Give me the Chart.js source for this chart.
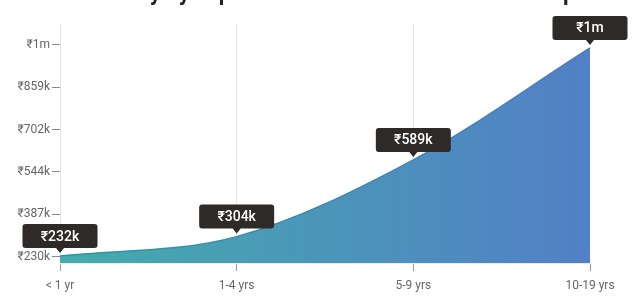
<!DOCTYPE html>
<html><head><meta charset="utf-8">
<script src="https://cdn.jsdelivr.net/npm/chart.js@4/dist/chart.umd.min.js"></script>
<style>html,body{margin:0;padding:0;background:#fff;}#wrap{width:641px;height:308px;position:relative;overflow:hidden;}</style>
</head><body><div id="wrap"><canvas id="c" width="641" height="308"></canvas></div>
<script>
const categories = ['< 1 yr', '1-4 yrs', '5-9 yrs', '10-19 yrs'];
const salaries = [232000, 304000, 589000, 1005000];
const valueLabels = ['₹232k', '₹304k', '₹589k', '₹1m'];
const yTickValues = [230000, 387200, 544400, 701600, 858800, 1016000];
const yTickLabels = ['₹230k', '₹387k', '₹544k', '₹702k', '₹859k', '₹1m'];
const titleText = 'Pay by Experience Level for Software Developer';

const FONT = 'Roboto, "DejaVu Sans", sans-serif';

const titlePlugin = {
  id: 'clippedTitle',
  afterDraw(chart) {
    const c = chart.ctx;
    c.save();
    c.font = 'bold 22px ' + FONT;
    c.fillStyle = '#222';
    c.textBaseline = 'alphabetic';
    c.textAlign = 'left';
    const x = 150 - c.measureText('Pa').width;
    c.fillText(titleText, x, 0);
    c.restore();
  }
};

const labelPlugin = {
  id: 'valueBoxes',
  afterDraw(chart) {
    const c = chart.ctx;
    const meta = chart.getDatasetMeta(0);
    c.save();
    c.font = '500 14px ' + FONT;
    meta.data.forEach((pt, i) => {
      const w = 75, h = 24, r = 3, tri = 5, gap = 3;
      const tipY = pt.y - gap;
      const bottom = tipY - tri;
      const top = bottom - h;
      const left = pt.x - w / 2;
      c.fillStyle = '#2d2a28';
      c.beginPath();
      c.moveTo(left + r, top);
      c.lineTo(left + w - r, top);
      c.quadraticCurveTo(left + w, top, left + w, top + r);
      c.lineTo(left + w, bottom - r);
      c.quadraticCurveTo(left + w, bottom, left + w - r, bottom);
      c.lineTo(pt.x + 4, bottom);
      c.lineTo(pt.x, tipY);
      c.lineTo(pt.x - 4, bottom);
      c.lineTo(left + r, bottom);
      c.quadraticCurveTo(left, bottom, left, bottom - r);
      c.lineTo(left, top + r);
      c.quadraticCurveTo(left, top, left + r, top);
      c.closePath();
      c.fill();
      c.fillStyle = '#ffffff';
      c.textAlign = 'center';
      c.textBaseline = 'middle';
      c.fillText(valueLabels[i], pt.x, top + h / 2 + 1);
    });
    c.restore();
  }
};

function hGrad(ctx, c0, c1) {
  const chart = ctx.chart;
  const a = chart.chartArea;
  if (!a) return c0;
  const g = chart.ctx.createLinearGradient(a.left, 0, a.right, 0);
  g.addColorStop(0, c0);
  g.addColorStop(1, c1);
  return g;
}

new Chart(document.getElementById('c'), {
  type: 'line',
  data: {
    labels: categories,
    datasets: [{
      data: salaries,
      fill: 'start',
      cubicInterpolationMode: 'monotone',
      borderWidth: 1.5,
      pointRadius: 0,
      backgroundColor: ctx => hGrad(ctx, 'rgb(68,171,172)', 'rgb(82,128,198)'),
      borderColor: ctx => hGrad(ctx, '#2b9a9c', '#4a78c0')
    }]
  },
  options: {
    responsive: false,
    devicePixelRatio: 1,
    animation: false,
    layout: { padding: { top: 24, right: 51, left: 0, bottom: 0 } },
    plugins: { legend: { display: false }, tooltip: { enabled: false }, title: { display: false } },
    scales: {
      x: {
        type: 'category',
        offset: false,
        z: 1,
        border: { display: true, color: 'rgba(0,0,0,0.08)' },
        grid: {
          color: ctx => (ctx.index < categories.length - 1 ? 'rgba(0,0,0,0.1)' : 'rgba(0,0,0,0)'),
          tickColor: '#999',
          tickLength: 8,
          drawTicks: true
        },
        ticks: { color: '#666', font: { family: FONT, size: 12 }, padding: 8, maxRotation: 0 },
        afterFit: s => { s.height = 45; }
      },
      y: {
        min: 206000,
        max: 1094000,
        border: { display: false },
        grid: { drawOnChartArea: false, tickColor: '#888', tickLength: 8 },
        afterBuildTicks: s => { s.ticks = yTickValues.map(v => ({ value: v })); },
        ticks: {
          color: '#666',
          font: { family: FONT, size: 12 },
          padding: 2,
          callback: (v, i) => yTickLabels[i]
        },
        afterFit: s => { s.width = 60; }
      }
    }
  },
  plugins: [labelPlugin, titlePlugin]
});
</script>
</body></html>
